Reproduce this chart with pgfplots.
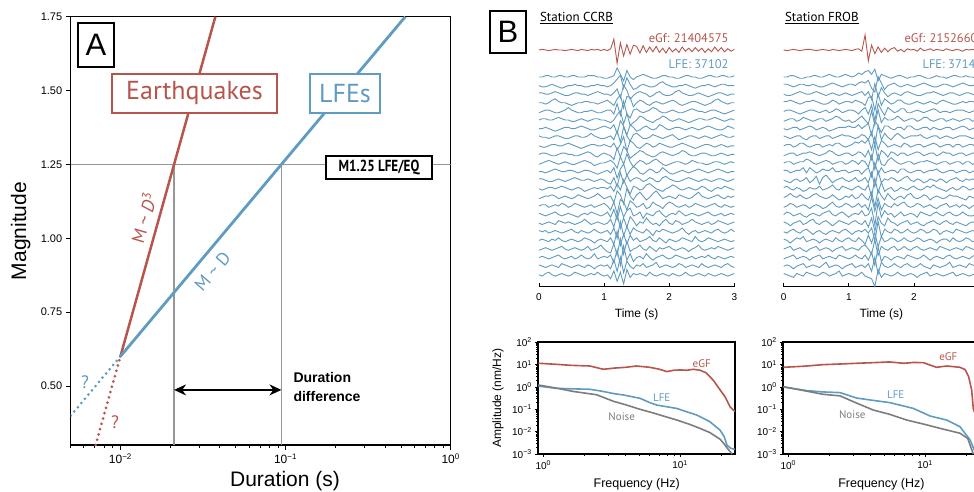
\documentclass[border=0pt]{standalone}
\usepackage{pgfplots}
\pgfplotsset{compat=1.18}
\usepackage{pgfplotstable}
\usepackage{graphicx}
\usepackage{fontspec}
\setmainfont{Liberation Sans}
\newfontfamily\myr{PT Sans}
\usetikzlibrary{arrows.meta}

\definecolor{eqred}{RGB}{183,85,76}
\definecolor{lfeblue}{RGB}{96,155,193}
\definecolor{refgray}{RGB}{150,150,150}
\definecolor{noisegray}{RGB}{125,125,125}

% one row per trace (eGf first, then LFEs top to bottom), samples every 0.05 s
\pgfplotstableread{
n t0 t1 t2 t3 t4 t5 t6 t7 t8 t9 t10 t11 t12 t13 t14 t15 t16 t17 t18 t19 t20 t21 t22 t23 t24 t25 t26 t27 t28 t29 t30 t31 t32 t33 t34 t35 t36 t37 t38 t39 t40 t41 t42 t43 t44 t45 t46 t47 t48 t49 t50 t51 t52 t53 t54 t55 t56 t57 t58 t59 t60
e 0 1 0 -1 0 1 0 0 -1 0 1 0 -1 1 0 -1 1 0 1 -1 1 -1 2 18 -22 12 -10 9 -7 8 6 -5 7 -4 5 -3 6 -4 3 -5 4 -3 2 -4 5 -2 3 -3 4 -2 3 -4 2 -3 5 -2 4 -3 2 -2 1
a1 0 0 1 1 0 0 1 1 0 0 1 1 0 0 0 1 1 1 0 0 -1 -1 0 1 7 2 -3 5 0 -2 0 1 2 1 0 -1 -1 0 1 1 0 0 -1 -1 0 1 1 0 0 -1 -1 0 1 1 0 0 1 1 0 0 1
a2 0 -1 -1 0 1 0 -1 -2 -1 0 0 1 0 0 -1 -1 0 0 1 0 0 -1 0 2 5 8 -2 6 1 -3 -2 0 1 0 -1 -1 0 2 3 1 0 -1 -1 0 0 1 0 -1 -2 -1 0 0 1 0 -1 0 1 1 0 0 0
a3 1 1 0 0 1 2 1 0 -1 -1 0 1 1 0 0 -1 0 1 2 1 0 0 -1 1 4 -3 7 3 -4 -1 1 2 1 0 -2 -1 1 2 0 -1 -1 0 2 3 1 0 -1 -1 0 1 0 -1 -2 -1 0 1 1 0 -1 0 0
a4 0 0 -1 0 2 3 1 0 0 -1 -2 -1 0 0 1 1 0 0 -1 0 1 2 0 -2 3 6 -4 5 4 -3 0 2 1 -1 -2 0 1 0 -1 0 1 2 1 -1 -2 -1 0 1 1 0 -1 -2 -1 0 2 3 1 0 -1 0 0
a5 -1 0 1 1 0 -1 -1 0 1 3 1 0 -1 -1 0 0 1 0 -1 -1 0 1 1 -2 6 -3 8 -2 -5 1 2 0 -1 0 1 3 2 0 -1 -1 0 1 0 -1 -1 0 1 2 1 0 0 -1 0 1 1 0 -1 -2 -1 0 1
a6 0 1 1 0 0 1 2 1 0 0 -1 -1 0 1 0 -1 0 1 1 0 0 -1 -2 0 4 7 -3 5 -4 -2 0 3 2 0 -1 -2 0 1 3 2 0 -1 0 1 0 -1 -2 -1 0 1 1 0 0 1 2 1 0 -1 0 1 0
a7 0 0 1 0 -1 -2 -1 0 1 1 0 0 1 2 1 0 -1 -1 0 1 2 1 0 3 -4 6 2 -5 3 1 -2 -1 1 2 0 -1 0 3 2 0 -1 0 1 1 0 -1 0 1 0 -1 0 1 2 1 0 -1 -1 0 2 1 0
a8 1 0 0 -1 0 1 1 0 -1 -1 0 1 1 0 0 1 3 1 0 -1 -1 0 1 -2 5 -4 8 1 -3 2 3 1 -1 -1 0 2 1 0 -1 0 1 2 0 -2 -1 0 1 1 0 -1 0 1 0 -1 0 1 2 1 0 0 1
a9 0 -1 -1 0 1 1 0 0 1 2 1 0 -1 -2 -1 0 1 1 0 0 1 0 -1 2 -3 1 7 -4 4 2 -1 -2 0 2 1 -1 0 2 1 0 -1 -1 0 1 2 1 0 -1 -2 -1 0 1 1 0 -1 0 1 0 -1 0 0
a10 0 1 1 0 -1 -1 0 1 1 0 0 -1 -1 0 1 2 1 -1 -2 0 1 0 -1 -4 5 -2 6 3 -3 -1 1 3 2 0 -1 -2 -1 1 2 1 0 -1 0 1 3 2 0 -1 -1 0 1 1 0 -1 -1 0 1 0 -1 0 0
a11 -1 0 1 2 1 0 -1 0 1 0 -1 -1 0 1 2 1 0 -2 -1 0 0 1 2 0 -4 5 -1 7 1 -3 0 2 1 -1 0 2 3 1 -1 -2 -1 0 1 1 0 -1 0 2 1 0 0 -1 -1 0 1 1 0 -1 0 1 0
a12 0 0 -1 0 1 2 1 0 0 1 1 0 -1 0 1 1 0 -1 -2 -1 0 1 -1 3 -5 2 6 -3 1 4 2 -1 -2 0 2 1 -1 0 3 1 -1 -2 -1 0 1 0 -1 0 1 2 1 0 -1 0 1 2 1 0 -1 0 0
a13 1 1 0 -1 -1 0 1 0 -1 0 1 2 1 0 0 1 0 -1 0 1 0 -2 -3 2 -5 6 -2 4 -1 1 2 1 -1 0 2 1 -1 -1 2 3 1 0 -1 -1 0 1 2 1 0 -1 0 1 0 -1 0 1 1 0 -1 0 1
a14 0 -1 0 1 1 0 1 2 1 0 -1 0 1 0 -2 -1 0 1 0 1 1 0 2 -2 4 -1 7 1 -4 2 1 -1 0 3 4 2 0 -1 -2 0 1 3 2 0 -1 0 1 0 -1 0 2 1 -1 -2 0 1 0 2 1 0 -1
a15 -1 0 1 1 2 1 -1 0 1 0 -1 0 2 1 0 -1 0 1 3 1 -1 0 1 -4 5 2 -5 7 1 -2 2 4 1 -2 0 3 5 2 -1 0 1 0 -1 2 1 0 -1 0 2 4 1 0 -1 0 1 2 0 -1 1 0 1
a16 0 1 1 -1 0 1 0 2 1 -1 0 2 1 0 -1 0 1 -1 0 1 2 0 -3 3 -6 5 3 -3 4 2 -1 0 2 -2 -1 3 1 0 -2 1 3 2 0 -1 0 1 -1 0 2 1 0 -1 0 1 2 0 -1 1 0 -1 0
a17 1 0 -1 0 1 2 0 -1 0 1 0 -1 -2 0 1 0 2 1 0 -1 0 2 -2 4 -4 6 -2 3 5 -1 0 2 -3 1 0 -1 2 3 0 -2 0 1 0 3 1 -1 0 1 0 -1 0 1 2 0 -1 0 1 -1 0 1 0
a18 0 -1 0 1 0 -1 2 1 0 1 0 -1 0 1 3 1 -1 0 1 0 -1 0 3 -3 7 -4 4 -3 5 2 -2 1 0 4 1 -1 0 -2 1 3 0 -1 2 1 -1 0 1 3 1 0 -1 0 1 -1 0 2 1 0 -1 0 1
a19 1 0 1 -1 0 1 0 -1 0 1 2 0 -1 1 0 -1 0 2 0 -1 0 1 -2 3 -5 8 -3 4 -2 3 1 0 -1 2 0 -3 1 0 2 1 0 -1 0 1 3 0 -2 0 1 -1 0 1 0 -1 1 2 0 -1 0 2 0
a20 0 1 0 -1 1 0 2 0 -1 0 1 0 -1 0 2 1 0 -2 0 1 0 -1 2 -3 7 -4 5 -3 4 0 2 -1 0 1 3 0 -1 2 0 -2 1 0 -1 0 2 1 0 -1 3 0 -1 0 2 1 0 -1 0 1 0 -1 0
a21 -1 0 1 0 -1 0 1 2 0 -1 0 1 0 -1 0 2 -1 0 1 3 0 -2 -3 4 -5 8 -4 6 -2 0 1 3 0 -1 2 0 -2 1 0 1 2 0 -1 0 1 0 -2 0 1 3 0 -1 0 1 0 2 1 0 -1 0 1
a22 0 1 0 -1 0 1 2 0 -1 0 1 -1 0 2 0 -1 0 3 -1 0 1 0 2 -4 6 -6 9 -2 3 -3 0 1 -1 3 0 -2 0 1 2 0 -1 0 2 1 0 -1 0 1 -1 0 1 0 2 0 -1 1 0 -1 0 1 0
a23 1 0 -1 0 1 0 -1 2 1 0 -1 0 1 0 -1 1 0 -2 0 1 0 1 -2 5 -4 7 -5 4 0 -2 1 0 2 -1 0 1 3 -1 0 1 0 -1 0 2 1 -1 0 1 0 -1 2 0 -1 0 1 0 -1 1 2 0 -1
a24 0 -1 1 2 0 -1 0 1 0 -1 0 2 1 0 -1 0 1 0 2 0 -1 0 -3 3 -5 2 -7 4 -2 1 0 1 0 -1 2 0 -1 0 1 0 -1 1 0 -1 0 2 0 -1 0 1 0 -1 1 0 -1 0 1 0 -1 0 1
}\rawC
\pgfplotstabletranspose[colnames from=n]{\tabC}{\rawC}

\pgfplotstableread{
n t0 t1 t2 t3 t4 t5 t6 t7 t8 t9 t10 t11 t12 t13 t14 t15 t16 t17 t18 t19 t20 t21 t22 t23 t24 t25 t26 t27 t28 t29 t30 t31 t32 t33 t34 t35 t36 t37 t38 t39 t40 t41 t42 t43 t44 t45 t46 t47 t48 t49 t50 t51 t52 t53 t54 t55 t56 t57 t58 t59 t60
e 0 -1 0 1 0 -1 0 1 1 0 -1 0 1 0 -1 1 0 -1 0 1 0 -1 1 2 -2 25 -18 8 -6 5 -4 3 -3 2 4 -2 1 -3 2 0 1 -2 3 -1 0 2 -1 1 0 -1 2 0 -1 1 0 -2 1 0 1 -1 0
a1 0 0 1 1 0 -1 -1 0 0 1 1 0 0 1 2 1 0 0 1 2 1 0 1 3 2 4 5 2 6 -3 2 1 0 -1 0 1 1 0 -1 0 0 1 1 0 -1 -1 0 1 0 0 -1 0 1 1 0 0 1 0 0 -1 0
a2 1 1 0 -1 0 1 1 0 0 1 0 -1 -1 0 1 2 1 0 -1 0 1 1 0 2 3 2 4 -2 -5 7 2 -3 0 1 2 0 -1 0 1 0 -1 0 1 2 1 0 -1 -1 0 1 1 0 -1 0 1 2 1 0 0 1 0
a3 0 -1 -1 0 1 2 1 0 0 1 2 1 0 -1 0 1 0 -1 0 1 0 -1 0 1 2 -1 2 -4 8 -2 5 1 -2 0 1 0 -1 1 2 1 0 -1 -1 0 1 1 2 1 0 -1 0 1 1 0 -1 0 1 1 0 -1 0
a4 1 1 2 1 0 -1 0 1 1 2 1 0 -1 -1 0 2 1 -1 0 1 1 0 2 1 0 -2 4 5 -6 7 -2 3 1 -1 0 2 2 0 -1 -1 0 1 0 -1 0 1 0 -1 1 2 1 0 -1 -1 0 1 0 1 1 0 0
a5 0 1 1 0 -1 -2 -1 0 1 1 0 -1 0 1 -1 0 2 1 -1 0 1 1 0 -2 1 3 -2 5 -7 6 1 -3 3 1 -1 0 2 2 -1 -1 0 1 0 -1 0 1 2 1 -1 0 0 -1 0 1 1 1 0 -1 0 1 0
a6 -1 0 1 1 -1 0 2 1 0 -1 0 1 1 -1 0 1 3 2 0 -1 0 -2 -1 1 3 0 -3 7 -4 8 -2 2 0 0 1 3 1 -1 0 1 1 -1 0 2 2 0 -1 0 1 1 -1 0 1 0 -1 0 1 1 -1 0 1
a7 0 -1 0 1 1 -1 0 1 2 1 -1 0 1 0 -2 -1 0 1 1 1 2 1 1 3 0 2 4 -5 6 2 -3 2 2 0 -1 1 1 -1 2 2 0 -1 0 1 1 -1 1 0 -1 0 1 1 -1 0 1 2 1 -1 0 1 0
a8 1 0 -1 0 1 1 -1 -2 0 1 1 -1 0 1 1 -1 0 1 2 1 1 0 -1 0 2 1 -2 4 -6 9 -2 3 0 -2 1 3 1 -1 0 1 1 1 2 0 -1 0 1 1 -1 0 1 0 -1 0 1 1 1 0 -1 0 1
a9 0 1 1 -1 0 2 2 0 -1 0 1 1 -1 0 1 0 2 2 0 -1 0 1 3 2 4 2 5 -3 7 -3 4 2 -1 0 1 0 -1 2 1 -1 0 1 1 -1 0 1 2 1 -1 0 1 1 -1 1 1 -1 0 1 1 -1 0
a10 -1 0 1 1 -1 0 1 1 2 1 0 -1 0 1 3 2 0 -1 0 1 1 -1 0 2 1 -2 3 -4 8 -5 3 1 -2 2 1 -1 1 1 -1 0 1 2 1 -1 0 1 1 -1 0 2 1 1 -1 0 1 1 -1 0 1 1 0
a11 0 1 1 -1 0 1 1 3 2 0 -1 0 1 2 1 -1 0 1 1 -1 0 2 1 -1 2 1 -3 6 -5 7 -1 -2 2 4 2 0 -1 0 1 1 -1 0 1 1 2 1 0 -1 0 1 1 -1 0 1 1 -1 1 1 -1 0 1
a12 1 1 -1 0 1 1 3 -1 3 1 -1 0 2 1 1 3 0 0 1 1 -1 0 1 1 -2 1 3 -4 7 -2 3 -1 0 1 1 -1 2 2 0 -1 0 1 1 -1 0 1 1 2 0 -1 0 1 1 -1 0 1 1 -1 0 1 0
a13 0 -1 -2 0 1 -1 0 2 -2 0 3 -3 2 4 1 -2 0 1 2 0 -1 0 2 -1 0 2 -2 6 -5 7 -2 1 0 2 1 -1 0 2 3 0 -1 1 0 -2 -1 1 0 -1 1 0 -2 0 1 2 0 -1 1 0 1 0 -1
a14 1 2 0 -1 1 0 -2 -1 1 0 0 2 -1 0 1 3 0 -1 2 1 0 -1 1 2 0 -1 3 -6 8 -3 5 -2 0 1 -2 -1 1 0 -1 1 2 0 -1 0 2 1 3 1 0 -1 -2 0 1 -1 0 2 1 -1 0 1 0
a15 0 1 3 1 0 2 0 -1 0 2 3 1 0 -1 0 2 0 -2 -1 1 0 2 -1 0 3 0 -2 4 -7 6 1 -2 3 0 -2 0 1 -1 2 3 0 -1 0 2 1 -2 0 1 0 -1 0 2 1 1 0 -1 -2 1 0 -1 0
a16 -1 0 2 1 -1 0 1 0 -2 0 1 0 -2 -1 1 3 0 -1 0 2 1 -1 0 2 -1 1 -3 7 -4 6 -3 2 0 -1 2 0 2 3 0 -1 0 2 1 -1 0 1 -1 -2 0 1 2 -1 0 1 -1 1 0 -2 0 1 0
a17 0 2 1 -1 0 1 -1 -2 0 1 0 -1 1 2 3 0 -1 1 2 0 -2 0 1 0 3 -1 0 5 -8 9 -2 3 0 1 -2 0 2 -1 0 1 0 -2 2 1 0 -1 1 2 0 -1 1 2 0 -1 0 2 0 -1 -1 0 1
a18 1 0 -2 0 1 2 -1 0 2 3 0 -1 1 2 0 -2 0 2 1 0 -1 1 2 0 -1 2 -3 4 -6 5 0 -2 4 1 0 -2 0 1 2 -1 0 1 -1 -2 0 1 2 0 -1 1 2 0 -1 1 0 -1 -2 0 1 0 -1
a19 0 -1 1 2 0 -1 1 2 0 -2 0 1 -1 -2 0 1 0 -1 1 2 0 -2 0 1 0 2 -1 3 -7 8 -4 2 0 -1 2 1 -1 0 2 0 -1 0 2 1 -1 0 2 1 -2 0 1 0 -1 2 1 0 -1 0 1 0 0
a20 1 0 -2 0 2 1 3 -1 0 1 0 -2 0 1 0 -1 2 0 -1 1 2 0 -1 2 0 -3 4 -2 6 -5 3 -1 0 2 1 -1 0 2 0 -1 0 2 1 -1 0 1 0 -2 0 1 1 -1 2 0 -1 0 2 1 -1 0 1
a21 0 1 2 -1 0 1 -1 -2 0 1 2 -1 0 1 0 -2 0 1 2 -1 0 1 0 -1 2 3 0 -4 7 -5 2 0 -1 1 2 -1 0 2 0 -1 1 2 0 -1 0 1 0 -1 2 1 0 -1 0 1 0 -1 2 1 0 -1 0
a22 -1 0 1 2 -1 0 1 0 -2 0 1 2 -1 0 1 0 -1 2 1 0 -1 0 2 0 -1 2 -2 4 -6 8 -3 1 0 -2 0 1 0 -1 2 1 0 -1 0 2 0 -2 0 1 0 -1 1 2 0 -1 0 1 0 -1 1 2 0
a23 0 1 0 -2 0 1 2 -1 0 1 0 -1 1 3 -1 0 1 0 -2 0 1 2 -1 0 1 -1 2 -4 7 -6 3 0 -1 0 2 0 -1 1 2 0 -1 0 2 0 -1 -2 1 0 -1 0 1 3 -1 0 1 0 -1 2 1 0 0
a24 1 0 -1 -2 1 0 -1 2 1 0 -1 0 2 1 -1 0 1 3 -1 0 1 0 -1 0 2 -1 -2 -3 -9 4 -2 1 0 -1 0 2 0 -1 0 1 0 -2 0 1 2 -1 0 1 0 -1 0 1 2 -1 0 1 0 -1 0 1 0
}\rawF
\pgfplotstabletranspose[colnames from=n]{\tabF}{\rawF}

\begin{document}
\begin{tikzpicture}
\useasboundingbox (0,0) rectangle (974pt,491pt);
\clip (0,0) rectangle (974pt,491pt);

% ---------------- panel A ----------------
\begin{axis}[
  at={(70.7pt,46pt)}, anchor=south west, scale only axis,
  width=380pt, height=428.3pt,
  xmode=log, xmin=0.005, xmax=1, ymin=0.3, ymax=1.75,
  xtick={0.01,0.1,1},
  xticklabels={10\textsuperscript{−2},10\textsuperscript{−1},10\textsuperscript{0}},
  minor xtick={0.005,0.006,0.007,0.008,0.009,0.02,0.03,0.04,0.05,0.06,0.07,0.08,0.09,0.2,0.3,0.4,0.5,0.6,0.7,0.8,0.9},
  ytick={0.5,0.75,1,1.25,1.5,1.75},
  yticklabels={0.50,0.75,1.00,1.25,1.50,1.75},
  tick align=outside, xtick pos=bottom, ytick pos=left,
  major tick length=5pt, minor tick length=3pt,
  every tick/.style={black, line width=0.8pt},
  axis line style={line width=1.2pt},
  xticklabel style={font=\fontsize{12}{14}\selectfont},
  yticklabel style={font=\fontsize{11}{13}\selectfont},
]
\addplot[refgray, line width=1.2pt] coordinates {(0.005,1.25)(1,1.25)};
\addplot[refgray, line width=1.2pt] coordinates {(0.02113,0.3)(0.02113,1.25)};
\addplot[refgray, line width=1.2pt] coordinates {(0.0944,0.3)(0.0944,1.25)};
\addplot[eqred, line width=2.5pt] coordinates {(0.01,0.6)(0.03758,1.75)};
\addplot[lfeblue, line width=2.8pt] coordinates {(0.01,0.6)(0.5309,1.75)};
\addplot[eqred, line width=3pt, line cap=round, dash pattern=on 0pt off 5.5pt] coordinates {(0.00708,0.3)(0.01,0.6)};
\addplot[lfeblue, line width=3pt, line cap=round, dash pattern=on 0pt off 5.5pt] coordinates {(0.005,0.3993)(0.01,0.6)};
\draw[line width=1.6pt, {Stealth[length=12pt,width=11pt]}-{Stealth[length=12pt,width=11pt]}]
  (axis cs:0.02113,0.4865) -- (axis cs:0.0944,0.4865);
\end{axis}

\node[draw, line width=2pt, fill=white, minimum width=36pt, minimum height=44pt, inner sep=0pt,
  font=\fontsize{31}{31}\selectfont] at (96pt,446pt) {A};
\node[draw=eqred, line width=2.5pt, fill=white, minimum width=165pt, minimum height=39pt, inner sep=0pt,
  text=eqred, font=\myr\fontsize{26}{26}\selectfont] at (194.5pt,397.5pt) {Earthquakes};
\node[draw=lfeblue, line width=2.5pt, fill=white, minimum width=70pt, minimum height=39pt, inner sep=0pt,
  text=lfeblue, font=\myr\fontsize{26}{26}\selectfont] at (345pt,397.5pt) {LFEs};
\node[draw, line width=1.2pt, fill=white, minimum width=106pt, minimum height=23pt, inner sep=0pt]
  at (379pt,323.5pt) {\scalebox{0.82}[1]{\myr\bfseries\fontsize{16}{16}\selectfont M1.25 LFE/EQ}};
\node[rotate=73.7, text=eqred, font=\myr\fontsize{18}{18}\selectfont] at (143.5pt,273pt)
  {M \textasciitilde\ \textit{D}\textsuperscript{3}};
\node[rotate=48.9, text=lfeblue, font=\myr\fontsize{18}{18}\selectfont] at (212.5pt,219.5pt)
  {M \textasciitilde\ D};
\node[text=lfeblue, font=\myr\fontsize{18}{18}\selectfont] at (85pt,109pt) {?};
\node[text=eqred, font=\myr\fontsize{18}{18}\selectfont] at (115pt,69pt) {?};
\node[anchor=west, align=left, font=\bfseries\fontsize{14}{19}\selectfont] at (290pt,103.8pt)
  {Duration\\difference};
\node[rotate=90, font=\fontsize{21}{25}\selectfont] at (20.7pt,260pt) {Magnitude};
\node[font=\fontsize{21}{25}\selectfont] at (285pt,10.3pt) {Duration (s)};

% ---------------- panel B: waveforms ----------------
\begin{axis}[at={(539pt,204.3pt)}, anchor=south west, scale only axis, width=195.3pt, height=266.7pt,
    xmin=0, xmax=3, ymin=-286.7, ymax=-20,
    axis x line*=bottom, axis y line=none, axis line style={-, line width=1.3pt},
    xtick={0,1,2,3}, xticklabels={0,1,2,3}, tick align=inside, major tick length=4pt,
    every tick/.style={black, line width=0.8pt},
    xticklabel style={font=\fontsize{10}{12}\selectfont, yshift=-3pt}, clip=false]
\addplot[eqred, line width=0.9pt] table[x expr=\coordindex*0.05, y expr=\thisrow{e}*0.6-50] {\tabC};
\pgfplotsinvokeforeach{1,...,24}{
  \addplot[lfeblue, line width=0.9pt] table[x expr=\coordindex*0.05, y expr=\thisrow{a#1}*1.3-77-(#1-1)*8.6] {\tabC};
}
\end{axis}
\begin{axis}[at={(783.7pt,204.3pt)}, anchor=south west, scale only axis, width=195.3pt, height=266.7pt,
    xmin=0, xmax=3, ymin=-286.7, ymax=-20,
    axis x line*=bottom, axis y line=none, axis line style={-, line width=1.3pt},
    xtick={0,1,2,3}, xticklabels={0,1,2,3}, tick align=inside, major tick length=4pt,
    every tick/.style={black, line width=0.8pt},
    xticklabel style={font=\fontsize{10}{12}\selectfont, yshift=-3pt}, clip=false]
\addplot[eqred, line width=0.9pt] table[x expr=\coordindex*0.05, y expr=\thisrow{e}*0.6-50] {\tabF};
\pgfplotsinvokeforeach{1,...,24}{
  \addplot[lfeblue, line width=0.9pt] table[x expr=\coordindex*0.05, y expr=\thisrow{a#1}*1.3-77-(#1-1)*8.6] {\tabF};
}
\end{axis}

% ---------------- panel B: spectra ----------------
\begin{axis}[at={(538.3pt,37pt)}, anchor=south west, scale only axis, width=196.7pt, height=111.7pt,
    xmode=log, ymode=log, xmin=0.92, xmax=25.2, ymin=0.001, ymax=100,
    xtick={1,10}, xticklabels={10\textsuperscript{0},10\textsuperscript{1}},
    minor xtick={2,3,4,5,6,7,8,9,20},
    ytick={0.001,0.01,0.1,1,10,100},
    yticklabels={10\textsuperscript{−3},10\textsuperscript{−2},10\textsuperscript{−1},10\textsuperscript{0},10\textsuperscript{1},10\textsuperscript{2}},
    axis line style={line width=1.8pt}, tick align=outside, xtick pos=bottom, ytick pos=left,
    major tick length=3pt, minor tick length=2pt, every tick/.style={black, line width=0.6pt},
    tick label style={font=\fontsize{10}{12}\selectfont}]
\addplot[eqred, line width=1.6pt] coordinates {
 (0.92,11.5)(1.2,10.5)(1.6,9.3)(2.19,8.7)(2.75,6.2)(3.3,7.0)(4.0,7.6)(4.8,8.7)(6.0,7.6)(7.0,6.3)
 (8.0,4.9)(9.0,5.6)(10,5.8)(11.2,5.6)(12.5,6.2)(14.0,5.6)(15.5,4.3)(17.5,2.0)(19.6,0.74)(21.3,0.37)
 (23.2,0.13)(25.2,0.079)};
\addplot[lfeblue, line width=1.6pt] coordinates {
 (0.92,1.1)(1.25,0.87)(1.7,0.82)(2.19,0.79)(2.75,0.63)(3.3,0.50)(3.85,0.44)(5.1,0.31)(6.0,0.20)
 (6.75,0.155)(8.0,0.13)(9.45,0.11)(11.0,0.08)(13.2,0.056)(16.5,0.028)(19.6,0.0117)(21,0.006)
 (22,0.0025)(23.5,0.0018)(25.2,0.0016)};
\addplot[noisegray, line width=1.6pt] coordinates {
 (0.92,1.23)(1.3,0.85)(1.66,0.63)(2.45,0.45)(3.25,0.23)(4.0,0.16)(5.1,0.10)(6.3,0.07)(7.55,0.05)
 (9.5,0.033)(11.8,0.021)(14.0,0.014)(16.5,0.0091)(19.6,0.0046)(21,0.0028)(22.5,0.0016)(24,0.001)};
\end{axis}
\begin{axis}[at={(783.3pt,37pt)}, anchor=south west, scale only axis, width=196.7pt, height=111.7pt,
    xmode=log, ymode=log, xmin=0.92, xmax=25.2, ymin=0.001, ymax=100,
    xtick={1,10}, xticklabels={10\textsuperscript{0},10\textsuperscript{1}},
    minor xtick={2,3,4,5,6,7,8,9,20},
    ytick={0.001,0.01,0.1,1,10,100},
    yticklabels={10\textsuperscript{−3},10\textsuperscript{−2},10\textsuperscript{−1},10\textsuperscript{0},10\textsuperscript{1},10\textsuperscript{2}},
    axis line style={line width=1.8pt}, tick align=outside, xtick pos=bottom, ytick pos=left,
    major tick length=3pt, minor tick length=2pt, every tick/.style={black, line width=0.6pt},
    tick label style={font=\fontsize{10}{12}\selectfont}]
\addplot[eqred, line width=1.6pt] coordinates {
 (0.92,7.6)(1.3,8.5)(1.8,10)(2.5,10.8)(3.16,11.5)(4.2,12.3)(5.5,13.2)(7.0,11.5)(8.2,12.5)(9.7,12.3)
 (12.1,7.6)(14.4,8.7)(18,7.6)(19.6,6.0)(20.8,2.9)(21.9,0.74)(22.5,0.11)(23.5,0.05)};
\addplot[lfeblue, line width=1.6pt] coordinates {
 (0.92,1.0)(1.36,0.69)(1.8,0.6)(2.39,0.56)(3.16,0.32)(4.2,0.25)(5.5,0.2)(7.0,0.14)(8.2,0.11)
 (10.9,0.05)(14.4,0.033)(18,0.0166)(21.3,0.0043)(22.8,0.0016)(24,0.001)};
\addplot[noisegray, line width=1.6pt] coordinates {
 (0.92,1.03)(1.8,0.47)(2.39,0.40)(3.16,0.19)(4.18,0.093)(5.5,0.06)(7.36,0.033)(10,0.021)
 (12.9,0.014)(18,0.0085)(20.5,0.005)(22.5,0.001)};
\end{axis}

% ---------------- panel B labels ----------------
\node[draw, line width=2pt, fill=white, minimum width=36pt, minimum height=42pt, inner sep=0pt,
  font=\fontsize{31}{31}\selectfont] at (508pt,459pt) {B};
\node[anchor=west, font=\myr\fontsize{13}{15}\selectfont] at (536.5pt,473pt) {\underline{Station CCRB}};
\node[anchor=west, font=\myr\fontsize{13}{15}\selectfont] at (781.5pt,473pt) {\underline{Station FROB}};
\node[anchor=east, text=eqred, font=\myr\fontsize{12.5}{14}\selectfont] at (732pt,453pt) {eGf: 21404575};
\node[anchor=east, text=lfeblue, font=\myr\fontsize{12.5}{14}\selectfont] at (732pt,427pt) {LFE: 37102};
\node[anchor=west, text=eqred, font=\myr\fontsize{12.5}{14}\selectfont] at (901pt,453pt) {eGf: 2152660};
\node[anchor=west, text=lfeblue, font=\myr\fontsize{12.5}{14}\selectfont] at (919pt,427pt) {LFE: 37140};
\node[font=\fontsize{12}{14}\selectfont] at (636.7pt,177pt) {Time (s)};
\node[font=\fontsize{12}{14}\selectfont] at (881.4pt,177pt) {Time (s)};
\node[rotate=90, font=\fontsize{12}{14}\selectfont] at (498pt,93pt) {Amplitude (nm/Hz)};
\node[font=\fontsize{12.5}{14}\selectfont] at (636.7pt,7pt) {Frequency (Hz)};
\node[font=\fontsize{12.5}{14}\selectfont] at (881.4pt,7pt) {Frequency (Hz)};
\node[text=eqred, font=\myr\fontsize{11}{13}\selectfont] at (701.7pt,127.7pt) {eGF};
\node[text=lfeblue, font=\myr\fontsize{11}{13}\selectfont] at (661.7pt,93pt) {LFE};
\node[text=noisegray, font=\myr\fontsize{11}{13}\selectfont] at (621.7pt,74.3pt) {Noise};
\node[text=eqred, font=\myr\fontsize{11}{13}\selectfont] at (948.3pt,134.3pt) {eGF};
\node[text=lfeblue, font=\myr\fontsize{11}{13}\selectfont] at (895.7pt,96pt) {LFE};
\node[text=noisegray, font=\myr\fontsize{11}{13}\selectfont] at (852.3pt,76pt) {Noise};
\end{tikzpicture}
\end{document}
